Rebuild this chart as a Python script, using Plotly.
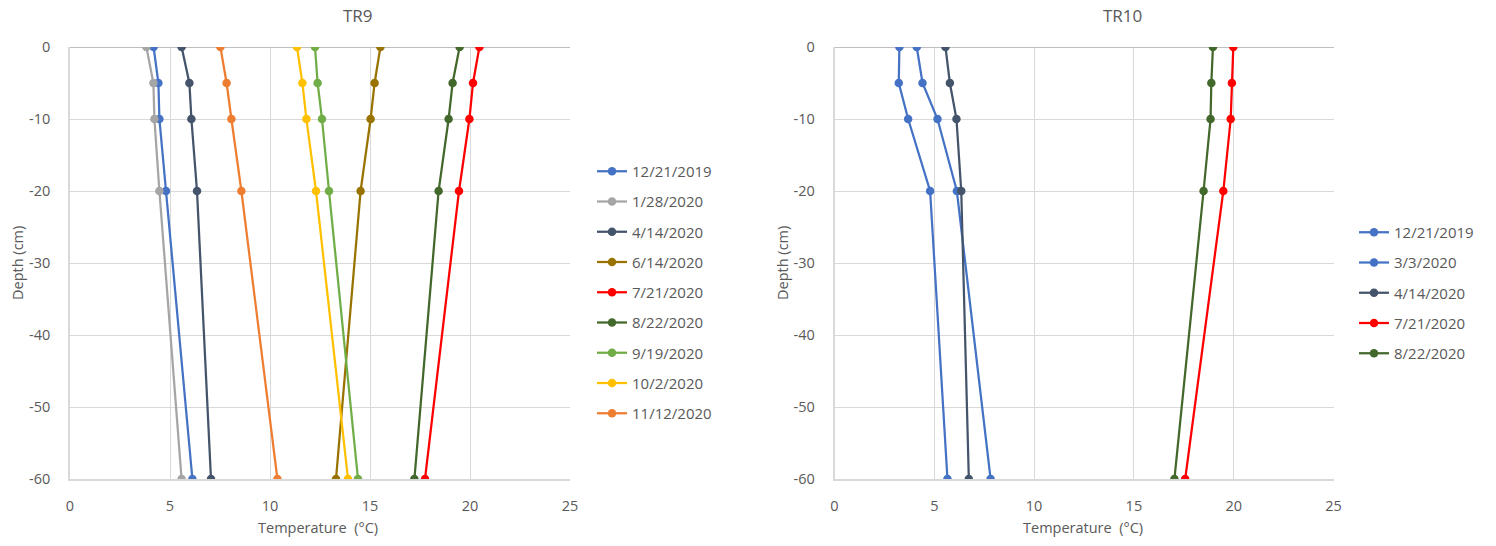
import plotly.graph_objects as go

depths = [0, -5, -10, -20, -60]

# TR9 series (temperature °C at each depth)
tr9_names = ["12/21/2019", "1/28/2020", "4/14/2020", "6/14/2020", "7/21/2020",
             "8/22/2020", "9/19/2020", "10/2/2020", "11/12/2020"]
tr9_12_21_2019 = [4.18, 4.42, 4.47, 4.80, 6.12]
tr9_1_28_2020 = [3.82, 4.17, 4.22, 4.47, 5.58]
tr9_4_14_2020 = [5.58, 5.97, 6.07, 6.35, 7.05]
tr9_6_14_2020 = [15.52, 15.23, 15.03, 14.53, 13.30]
tr9_7_21_2020 = [20.47, 20.15, 19.97, 19.45, 17.75]
tr9_8_22_2020 = [19.48, 19.13, 18.93, 18.43, 17.22]
tr9_9_19_2020 = [12.25, 12.38, 12.60, 12.95, 14.40]
tr9_10_2_2020 = [11.35, 11.62, 11.82, 12.30, 13.90]
tr9_11_12_2020 = [7.52, 7.83, 8.07, 8.57, 10.37]
tr9_values = [tr9_12_21_2019, tr9_1_28_2020, tr9_4_14_2020, tr9_6_14_2020, tr9_7_21_2020,
              tr9_8_22_2020, tr9_9_19_2020, tr9_10_2_2020, tr9_11_12_2020]
tr9_colors = ["#4472C4", "#A5A5A5", "#44546A", "#997300", "#FF0000",
              "#43682B", "#70AD47", "#FFC000", "#ED7D31"]

# TR10 series
tr10_names = ["12/21/2019", "3/3/2020", "4/14/2020", "7/21/2020", "8/22/2020"]
tr10_12_21_2019 = [4.12, 4.41, 5.16, 6.13, 7.82]
tr10_3_3_2020 = [3.25, 3.22, 3.69, 4.79, 5.66]
tr10_4_14_2020 = [5.56, 5.78, 6.11, 6.35, 6.73]
tr10_7_21_2020 = [19.98, 19.91, 19.85, 19.48, 17.57]
tr10_8_22_2020 = [18.96, 18.88, 18.84, 18.49, 17.03]
tr10_values = [tr10_12_21_2019, tr10_3_3_2020, tr10_4_14_2020, tr10_7_21_2020, tr10_8_22_2020]
tr10_colors = ["#4472C4", "#4472C4", "#44546A", "#FF0000", "#43682B"]

x_ticks = [0, 5, 10, 15, 20, 25]
y_ticks = [0, -10, -20, -30, -40, -50, -60]
y_tick_labels = ["0", "-10", "-20", "-30", "-40", "-50", "-60"]

W, H = 1496, 546
FONT = "Open Sans"
TXT = "#595959"
GRID = "#D9D9D9"

fig = go.Figure()
for i, (n, v, c) in enumerate(zip(tr9_names, tr9_values, tr9_colors)):
    fig.add_trace(go.Scatter(x=v, y=depths, name=n, mode="lines+markers",
                             line=dict(color=c, width=2.25), marker=dict(color=c, size=8.5),
                             xaxis="x", yaxis="y", legend="legend", legendgroup="a%d" % i))
for i, (n, v, c) in enumerate(zip(tr10_names, tr10_values, tr10_colors)):
    fig.add_trace(go.Scatter(x=v, y=depths, name=n, mode="lines+markers",
                             line=dict(color=c, width=2.25), marker=dict(color=c, size=8.5),
                             xaxis="x2", yaxis="y2", legend="legend2", legendgroup="b%d" % i))

def px_x(p):
    return p / W

def px_y(p):
    return 1 - p / H

xax = dict(range=[0, 25], tickvals=x_ticks, showgrid=True, gridcolor=GRID, gridwidth=1,
           zeroline=False, showline=True, linecolor=GRID, linewidth=1.5,
           ticks="outside", ticklen=13, automargin=False,
           tickcolor="rgba(0,0,0,0)", tickfont=dict(family=FONT, size=14.5, color=TXT))
yax = dict(range=[-60, 0], tickvals=y_ticks, ticktext=y_tick_labels, showgrid=True,
           gridcolor=GRID, gridwidth=1,
           zeroline=True, zerolinecolor="#BFBFBF", zerolinewidth=1,
           showline=True, linecolor=GRID, linewidth=1.5,
           ticks="outside", ticklen=15, tickcolor="rgba(0,0,0,0)", automargin=False,
           tickfont=dict(family=FONT, size=14.5, color=TXT))

ydom = [px_y(479), px_y(47)]
leg_font = dict(family=FONT, size=15, color=TXT)
ann_font = dict(family=FONT, size=14.5, color=TXT)
fig.update_layout(
    width=W, height=H, margin=dict(l=0, r=0, t=0, b=0, pad=0, autoexpand=False),
    paper_bgcolor="white", plot_bgcolor="white",
    font=dict(family=FONT, color=TXT),
    xaxis=dict(xax, domain=[px_x(70), px_x(570)], anchor="y"),
    yaxis=dict(yax, domain=ydom, anchor="x"),
    xaxis2=dict(xax, domain=[px_x(834.5), px_x(1333.5)], anchor="y2"),
    yaxis2=dict(yax, domain=ydom, anchor="x2"),
    legend=dict(x=px_x(592), y=px_y(155), xanchor="left", yanchor="top",
                font=leg_font, tracegroupgap=7.75, bgcolor="rgba(0,0,0,0)"),
    legend2=dict(x=px_x(1354), y=px_y(216), xanchor="left", yanchor="top",
                 font=leg_font, tracegroupgap=7.75, bgcolor="rgba(0,0,0,0)"),
    showlegend=True,
    annotations=[
        dict(text="TR9", x=px_x(358), y=px_y(15), xref="paper", yref="paper",
             xanchor="center", yanchor="middle",
             showarrow=False, font=dict(family=FONT, size=17, color=TXT)),
        dict(text="TR10", x=px_x(1122), y=px_y(15), xref="paper", yref="paper",
             xanchor="center", yanchor="middle",
             showarrow=False, font=dict(family=FONT, size=17, color=TXT)),
        dict(text="Temperature \u00a0(°C)", x=px_x(318), y=px_y(527), xref="paper", yref="paper",
             xanchor="center", yanchor="middle", showarrow=False, font=ann_font),
        dict(text="Temperature \u00a0(°C)", x=px_x(1083), y=px_y(527), xref="paper", yref="paper",
             xanchor="center", yanchor="middle", showarrow=False, font=ann_font),
        dict(text="Depth (cm)", x=px_x(17), y=px_y(263), xref="paper", yref="paper",
             xanchor="center", yanchor="middle",
             textangle=-90, showarrow=False, font=ann_font),
        dict(text="Depth (cm)", x=px_x(782), y=px_y(263), xref="paper", yref="paper",
             xanchor="center", yanchor="middle",
             textangle=-90, showarrow=False, font=ann_font),
    ],
)

fig.write_html("out.html", config={"displayModeBar": False},
               post_script="document.body.style.margin='0px';")
